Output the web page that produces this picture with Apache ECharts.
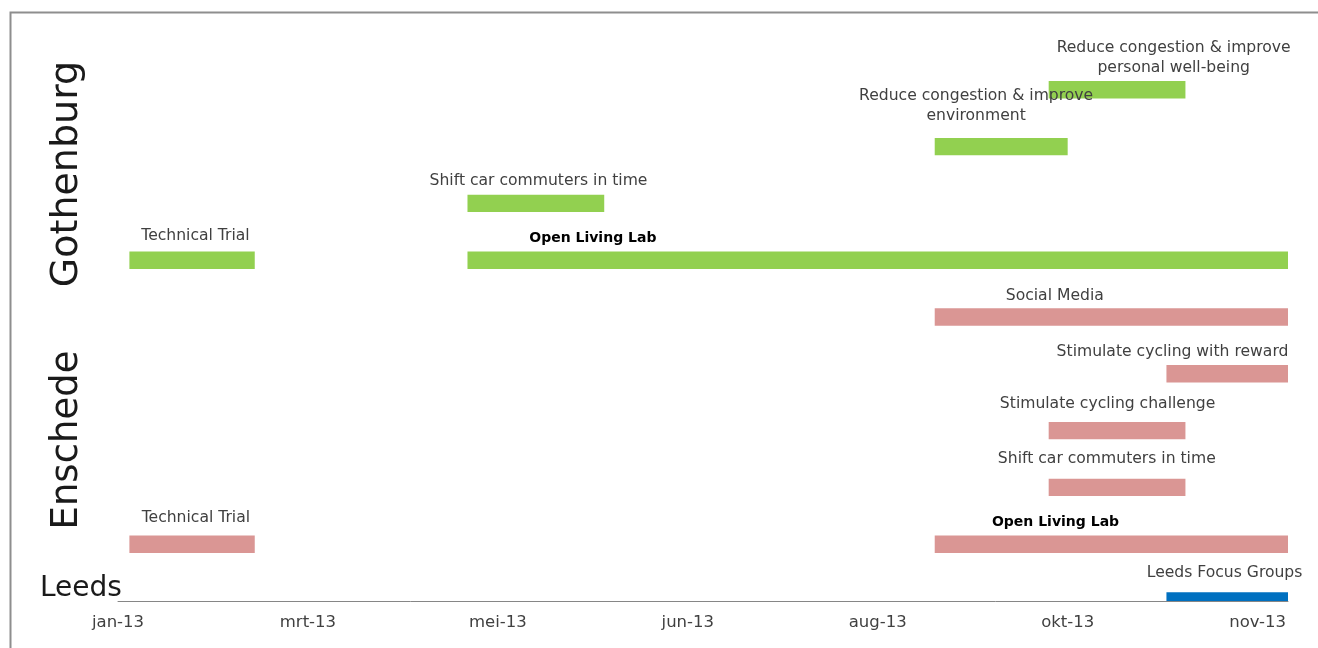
<!DOCTYPE html>
<html><head><meta charset="utf-8">
<script src="https://cdn.jsdelivr.net/npm/echarts@6/dist/echarts.min.js"></script>
<style>html,body{margin:0;padding:0;background:#fff}#c{width:1318px;height:648px}</style>
</head><body><div id="c"></div>
<script>
// ---- data ----
const axisStartDate = '2013-01-29';
const axisEndDate = '2013-12-03';
const tickLabels = ['jan-13','mrt-13','mei-13','jun-13','aug-13','okt-13','nov-13'];
const tickDates = ['2013-01-29','2013-03-20','2013-05-09','2013-06-28','2013-08-17','2013-10-06','2013-11-25'];
const siteNames = ['Gothenburg','Enschede','Leeds'];
const taskNames = [
  'Reduce congestion & improve\npersonal well-being',
  'Reduce congestion & improve\nenvironment',
  'Shift car commuters in time',
  'Technical Trial',
  'Open Living Lab',
  'Social Media',
  'Stimulate cycling with reward',
  'Stimulate cycling challenge',
  'Shift car commuters in time',
  'Open Living Lab',
  'Technical Trial',
  'Leeds Focus Groups'
];
const taskSite = ['Gothenburg','Gothenburg','Gothenburg','Gothenburg','Gothenburg','Enschede','Enschede','Enschede','Enschede','Enschede','Enschede','Leeds'];
const taskRow = [9,8,7,6,6,5,4,3,2,1,1,0];
const taskStart = ['2013-10-01','2013-09-01','2013-05-01','2013-02-01','2013-05-01','2013-09-01','2013-11-01','2013-10-01','2013-10-01','2013-09-01','2013-02-01','2013-11-01'];
const taskEnd   = ['2013-11-06','2013-10-06','2013-06-06','2013-03-06','2013-12-03','2013-12-03','2013-12-03','2013-11-06','2013-11-06','2013-12-03','2013-03-06','2013-12-03'];

// ---- label layout (anchor day for text centre, rise in px above bar centre) ----
const labelAnchorDay = [277.9,225.9,110.7,20.4,125,246.6,277.6,260.5,260.3,246.8,20.5,291.3];
const labelRise = [31.5,40.6,22.7,24.7,21.4,21.3,22,26.3,28.5,22.2,26.2,28.3];
const labelBold = [false,false,false,false,true,false,false,false,false,true,false,false];

// ---- styles ----
const siteColor = {Gothenburg:'#92D050', Enschede:'#DA9694', Leeds:'#0070C0'};
const FONT = '"DejaVu Sans", sans-serif';

const DAY = 86400000;
function utc(s){ const p=s.split('-').map(Number); return Date.UTC(p[0],p[1]-1,p[2]); }
function dayOf(s){ return (utc(s) - utc(axisStartDate))/DAY; }

const data = taskNames.map((n,i)=>[dayOf(taskStart[i]), dayOf(taskEnd[i]), taskRow[i], i]);
const tickDays = tickDates.map(dayOf);

const chart = echarts.init(document.getElementById('c'), null, {renderer:'canvas'});
chart.setOption({
  animation:false,
  backgroundColor:'#ffffff',
  grid:{left:118, right:30, top:33, bottom:47, containLabel:false},
  xAxis:{
    type:'value', min:0, max:dayOf(axisEndDate),
    axisLine:{show:true, lineStyle:{color:'#868686', width:1}},
    axisTick:{show:false},
    splitLine:{show:false},
    axisLabel:{
      customValues:tickDays, margin:13,
      color:'#404040', fontFamily:FONT, fontSize:16.5,
      formatter:(v)=>{ const k=tickDays.indexOf(v); return k>=0?tickLabels[k]:''; }
    }
  },
  yAxis:{type:'value', min:0, max:10, show:false},
  series:[{
    type:'custom',
    clip:false,
    data:data,
    encode:{x:[0,1], y:2},
    renderItem:(params, api)=>{
      const i = api.value(3);
      const p0 = api.coord([api.value(0), api.value(2)]);
      const p1 = api.coord([api.value(1), api.value(2)]);
      const h = 17.4;
      const rect = echarts.graphic.clipRectByRect(
        {x:p0[0], y:p0[1]-h/2, width:p1[0]-p0[0], height:h},
        {x:params.coordSys.x, y:params.coordSys.y, width:params.coordSys.width, height:params.coordSys.height});
      const la = api.coord([labelAnchorDay[i], api.value(2)]);
      const children = [];
      if (rect) children.push({type:'rect', shape:rect, style:{fill:siteColor[taskSite[i]]}});
      children.push({type:'text', style:{
        text:taskNames[i], x:la[0], y:p0[1]-labelRise[i],
        align:'center', verticalAlign:'middle',
        fill: labelBold[i] ? '#000000' : '#404040',
        font:(labelBold[i]?'bold 14px ':'15.6px ')+FONT, lineHeight:20
      }});
      return {type:'group', children};
    }
  }],
  graphic:[
    {type:'polyline', shape:{points:[[10.5,648],[10.5,12.5],[1318,12.5]]}, style:{stroke:'#8e8e8e', lineWidth:2, fill:null}, silent:true},
    {type:'text', x:67, y:174, rotation:Math.PI/2, style:{text:siteNames[0], align:'center', verticalAlign:'middle', fill:'#1a1a1a', font:'38px '+FONT}},
    {type:'text', x:67, y:440, rotation:Math.PI/2, style:{text:siteNames[1], align:'center', verticalAlign:'middle', fill:'#1a1a1a', font:'37px '+FONT}},
    {type:'text', x:40, y:589, style:{text:siteNames[2], align:'left', verticalAlign:'middle', fill:'#1a1a1a', font:'28px '+FONT}}
  ]
});
</script></body></html>
